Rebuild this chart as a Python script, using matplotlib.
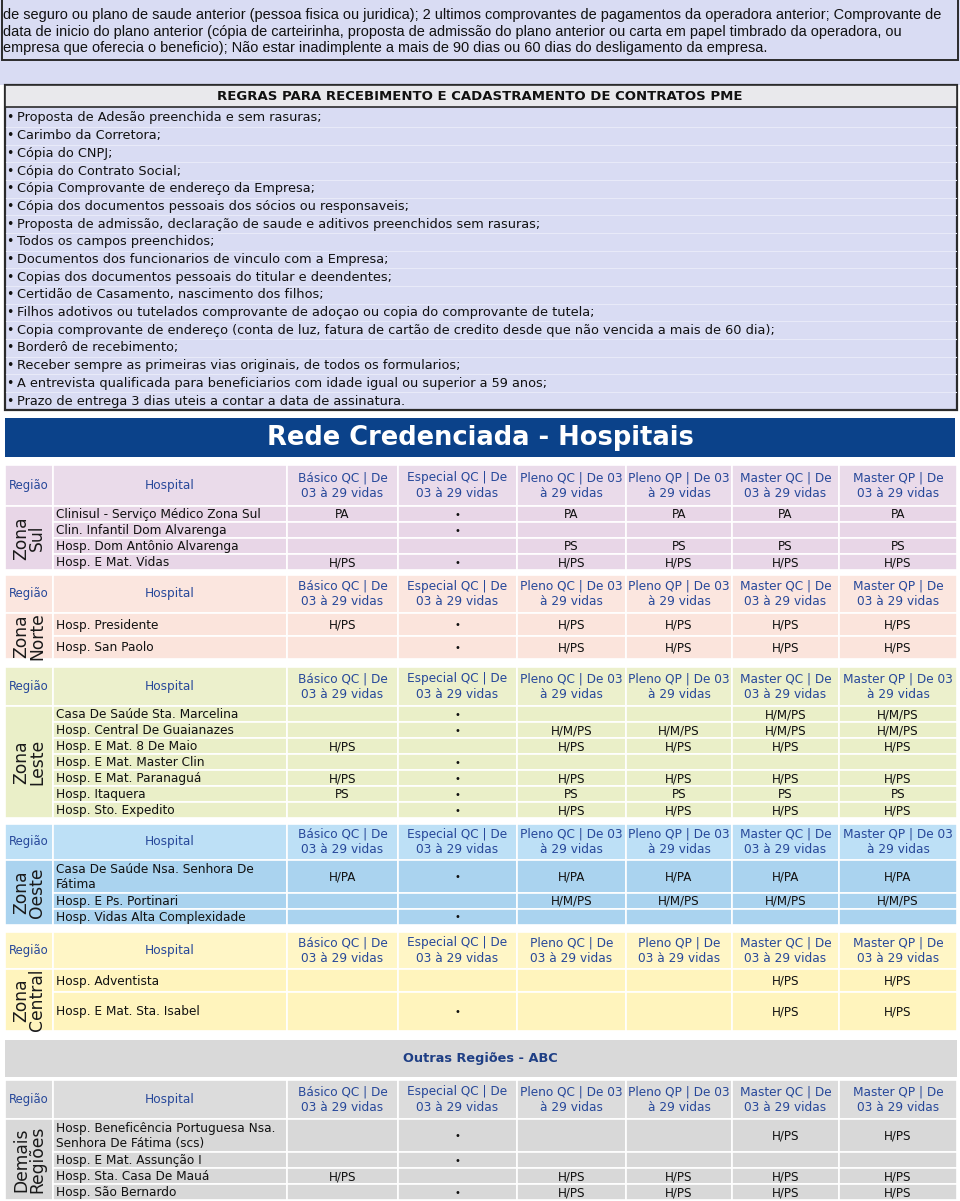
import matplotlib
matplotlib.use("Agg")
import matplotlib.pyplot as plt
from matplotlib.patches import Rectangle

# ── DATA ────────────────────────────────────────────────────────────────────
INTRO_LINES = [
    "de seguro ou plano de saude anterior (pessoa fisica ou juridica); 2 ultimos comprovantes de pagamentos da operadora anterior; Comprovante de",
    "data de inicio do plano anterior (cópia de carteirinha, proposta de admissão do plano anterior ou carta em papel timbrado da operadora, ou",
    "empresa que oferecia o beneficio); Não estar inadimplente a mais de 90 dias ou 60 dias do desligamento da empresa.",
]

RULES_TITLE = "REGRAS PARA RECEBIMENTO E CADASTRAMENTO DE CONTRATOS PME"
RULES = [
    "Proposta de Adesão preenchida e sem rasuras;",
    "Carimbo da Corretora;",
    "Cópia do CNPJ;",
    "Cópia do Contrato Social;",
    "Cópia Comprovante de endereço da Empresa;",
    "Cópia dos documentos pessoais dos sócios ou responsaveis;",
    "Proposta de admissão, declaração de saude e aditivos preenchidos sem rasuras;",
    "Todos os campos preenchidos;",
    "Documentos dos funcionarios de vinculo com a Empresa;",
    "Copias dos documentos pessoais do titular e deendentes;",
    "Certidão de Casamento, nascimento dos filhos;",
    "Filhos adotivos ou tutelados comprovante de adoçao ou copia do comprovante de tutela;",
    "Copia comprovante de endereço (conta de luz, fatura de cartão de credito desde que não vencida a mais de 60 dia);",
    "Borderô de recebimento;",
    "Receber sempre as primeiras vias originais, de todos os formularios;",
    "A entrevista qualificada para beneficiarios com idade igual ou superior a 59 anos;",
    "Prazo de entrega 3 dias uteis a contar a data de assinatura.",
]

MAIN_TITLE = "Rede Credenciada - Hospitais"
ABC_TITLE = "Outras Regiões - ABC"
HEAD_REGION = "Região"
HEAD_HOSPITAL = "Hospital"

PLANS_A = ["Básico QC | De\n03 à 29 vidas", "Especial QC | De\n03 à 29 vidas",
           "Pleno QC | De 03\nà 29 vidas", "Pleno QP | De 03\nà 29 vidas",
           "Master QC | De\n03 à 29 vidas", "Master QP | De\n03 à 29 vidas"]
PLANS_B = ["Básico QC | De\n03 à 29 vidas", "Especial QC | De\n03 à 29 vidas",
           "Pleno QC | De 03\nà 29 vidas", "Pleno QP | De 03\nà 29 vidas",
           "Master QC | De\n03 à 29 vidas", "Master QP | De 03\nà 29 vidas"]
PLANS_C = ["Básico QC | De\n03 à 29 vidas", "Especial QC | De\n03 à 29 vidas",
           "Pleno QC | De\n03 à 29 vidas", "Pleno QP | De\n03 à 29 vidas",
           "Master QC | De\n03 à 29 vidas", "Master QP | De\n03 à 29 vidas"]

B = "•"

SUL_LABEL = "Zona\nSul"
SUL_HOSP = ["Clinisul - Serviço Médico Zona Sul", "Clin. Infantil Dom Alvarenga",
            "Hosp. Dom Antônio Alvarenga", "Hosp. E Mat. Vidas"]
SUL_VALS = [["PA", B, "PA", "PA", "PA", "PA"],
            ["", B, "", "", "", ""],
            ["", "", "PS", "PS", "PS", "PS"],
            ["H/PS", B, "H/PS", "H/PS", "H/PS", "H/PS"]]

NORTE_LABEL = "Zona\nNorte"
NORTE_HOSP = ["Hosp. Presidente", "Hosp. San Paolo"]
NORTE_VALS = [["H/PS", B, "H/PS", "H/PS", "H/PS", "H/PS"],
              ["", B, "H/PS", "H/PS", "H/PS", "H/PS"]]

LESTE_LABEL = "Zona\nLeste"
LESTE_HOSP = ["Casa De Saúde Sta. Marcelina", "Hosp. Central De Guaianazes",
              "Hosp. E Mat. 8 De Maio", "Hosp. E Mat. Master Clin",
              "Hosp. E Mat. Paranaguá", "Hosp. Itaquera", "Hosp. Sto. Expedito"]
LESTE_VALS = [["", B, "", "", "H/M/PS", "H/M/PS"],
              ["", B, "H/M/PS", "H/M/PS", "H/M/PS", "H/M/PS"],
              ["H/PS", "", "H/PS", "H/PS", "H/PS", "H/PS"],
              ["", B, "", "", "", ""],
              ["H/PS", B, "H/PS", "H/PS", "H/PS", "H/PS"],
              ["PS", B, "PS", "PS", "PS", "PS"],
              ["", B, "H/PS", "H/PS", "H/PS", "H/PS"]]

OESTE_LABEL = "Zona\nOeste"
OESTE_HOSP = ["Casa De Saúde Nsa. Senhora De\nFátima", "Hosp. E Ps. Portinari",
              "Hosp. Vidas Alta Complexidade"]
OESTE_VALS = [["H/PA", B, "H/PA", "H/PA", "H/PA", "H/PA"],
              ["", "", "H/M/PS", "H/M/PS", "H/M/PS", "H/M/PS"],
              ["", B, "", "", "", ""]]

CENTRAL_LABEL = "Zona\nCentral"
CENTRAL_HOSP = ["Hosp. Adventista", "Hosp. E Mat. Sta. Isabel"]
CENTRAL_VALS = [["", "", "", "", "H/PS", "H/PS"],
                ["", B, "", "", "H/PS", "H/PS"]]

ABC_LABEL = "Demais\nRegiões"
ABC_HOSP = ["Hosp. Beneficência Portuguesa Nsa.\nSenhora De Fátima (scs)",
            "Hosp. E Mat. Assunção I", "Hosp. Sta. Casa De Mauá", "Hosp. São Bernardo"]
ABC_VALS = [["", B, "", "", "H/PS", "H/PS"],
            ["", B, "", "", "", ""],
            ["H/PS", "", "H/PS", "H/PS", "H/PS", "H/PS"],
            ["", B, "H/PS", "H/PS", "H/PS", "H/PS"]]
# ────────────────────────────────────────────────────────────────────────────

W, H = 960, 1201
COL_X = [5, 53, 287, 398, 517, 626, 732, 839, 957]
LAV = "#d9dcf3"
DARK = "#2b2b2b"
HEAD_BLUE = "#27489a"
NARROW = ["Liberation Sans Narrow", "Liberation Sans", "DejaVu Sans"]
CELL_FS = 8.7

fig = plt.figure(figsize=(W / 100, H / 100), dpi=100)
ax = fig.add_axes([0, 0, 1, 1])
ax.set_xlim(0, W)
ax.set_ylim(H, 0)
ax.axis("off")


def rect(x0, y0, x1, y1, fc, ec="none", lw=0, z=1):
    ax.add_patch(Rectangle((x0, y0), x1 - x0, y1 - y0, facecolor=fc,
                           edgecolor=ec, linewidth=lw, zorder=z))


# intro box + lavender band
rect(0, 0, W, 85, LAV)
rect(2, -2, 958, 60, LAV, DARK, 1.4, 2)
for i, line in enumerate(INTRO_LINES):
    ax.text(3, 15 + i * 16.6, line, fontsize=10.45, family=NARROW,
            va="center", ha="left", color="#111111", zorder=3)

# rules box
rect(5, 85, 957, 410, LAV, DARK, 1.6, 2)
rect(5, 85, 957, 107, "#e9e9ec", DARK, 1.2, 2)
ax.text(480, 96.5, RULES_TITLE, fontsize=9.55, fontweight="bold",
        ha="center", va="center", color="#111111", zorder=3)
step = (401 - 118) / (len(RULES) - 1)
for i, item in enumerate(RULES):
    y = 118 + i * step
    if i:
        ax.plot([6, 956], [y - step / 2, y - step / 2], color="#e8eaf8",
                lw=0.8, zorder=2)
    ax.text(6.5, y, "•", fontsize=9, ha="left", va="center", color="#111111", zorder=3)
    ax.text(17, y, item, fontsize=9.25, ha="left", va="center", color="#111111", zorder=3)

# main title
rect(5, 418, 955, 457, "#0b428a", z=2)
ax.text(480, 438, MAIN_TITLE, fontsize=18.5, fontweight="bold", color="white",
        ha="center", va="center", zorder=3)


def draw_section(label, hosp, vals, plans, top, head_h, row_h, head_c, row_c):
    # header row
    hb = top + head_h
    for c in range(8):
        rect(COL_X[c], top, COL_X[c + 1], hb, head_c, "white", 1.2, 2)
    ax.text((COL_X[0] + COL_X[1]) / 2, top + head_h / 2, HEAD_REGION, fontsize=8.4,
            color=HEAD_BLUE, ha="center", va="center", zorder=3)
    ax.text((COL_X[1] + COL_X[2]) / 2, top + head_h / 2, HEAD_HOSPITAL, fontsize=8.7,
            color=HEAD_BLUE, ha="center", va="center", zorder=3)
    for c, p in enumerate(plans):
        ax.text((COL_X[c + 2] + COL_X[c + 3]) / 2, top + head_h / 2, p,
                fontsize=CELL_FS, color=HEAD_BLUE, ha="center", va="center",
                linespacing=1.25, zorder=3)
    # region label cell spanning rows
    bottom = hb + sum(row_h)
    rect(COL_X[0], hb, COL_X[1], bottom, row_c, "white", 1.2, 2)
    ax.text((COL_X[0] + COL_X[1]) / 2, (hb + bottom) / 2, label, fontsize=12.3,
            rotation=90, ha="center", va="center", color="#1a1a1a",
            linespacing=0.85, zorder=3)
    y = hb
    for name, row, h in zip(hosp, vals, row_h):
        for c in range(1, 8):
            rect(COL_X[c], y, COL_X[c + 1], y + h, row_c, "white", 1.2, 2)
        ax.text(COL_X[1] + 3, y + h / 2 + 0.5, name, fontsize=CELL_FS, ha="left",
                va="center", color="#111111", linespacing=1.25, zorder=3)
        for c, v in enumerate(row):
            if v:
                ax.text((COL_X[c + 2] + COL_X[c + 3]) / 2, y + h / 2 + 0.5, v,
                        fontsize=7 if v == B else 8.6, ha="center",
                        va="center", color="#111111", zorder=3)
        y += h


draw_section(SUL_LABEL, SUL_HOSP, SUL_VALS, PLANS_A, 465, 41, [16] * 4,
             "#eadbea", "#e8d6e7")
draw_section(NORTE_LABEL, NORTE_HOSP, NORTE_VALS, PLANS_A, 575, 38, [23, 23],
             "#fbe6df", "#fbe4dc")
draw_section(LESTE_LABEL, LESTE_HOSP, LESTE_VALS, PLANS_B, 667, 39, [16] * 7,
             "#ecf0cc", "#eaefc8")
draw_section(OESTE_LABEL, OESTE_HOSP, OESTE_VALS, PLANS_B, 824, 36, [33, 16, 16],
             "#bde0f6", "#aad3ef")
draw_section(CENTRAL_LABEL, CENTRAL_HOSP, CENTRAL_VALS, PLANS_C, 932, 37, [23, 39],
             "#fff6c6", "#fff4bd")

rect(5, 1040, 957, 1077, "#d9d9d9", z=2)
ax.text(480, 1058.5, ABC_TITLE, fontsize=9.3, fontweight="bold", color="#1f3f85",
        ha="center", va="center", zorder=3)
draw_section(ABC_LABEL, ABC_HOSP, ABC_VALS, PLANS_A, 1080, 39, [33, 16, 16, 16],
             "#dcdcdc", "#d8d8d8")

fig.savefig("out.png", dpi=100, facecolor="white")
